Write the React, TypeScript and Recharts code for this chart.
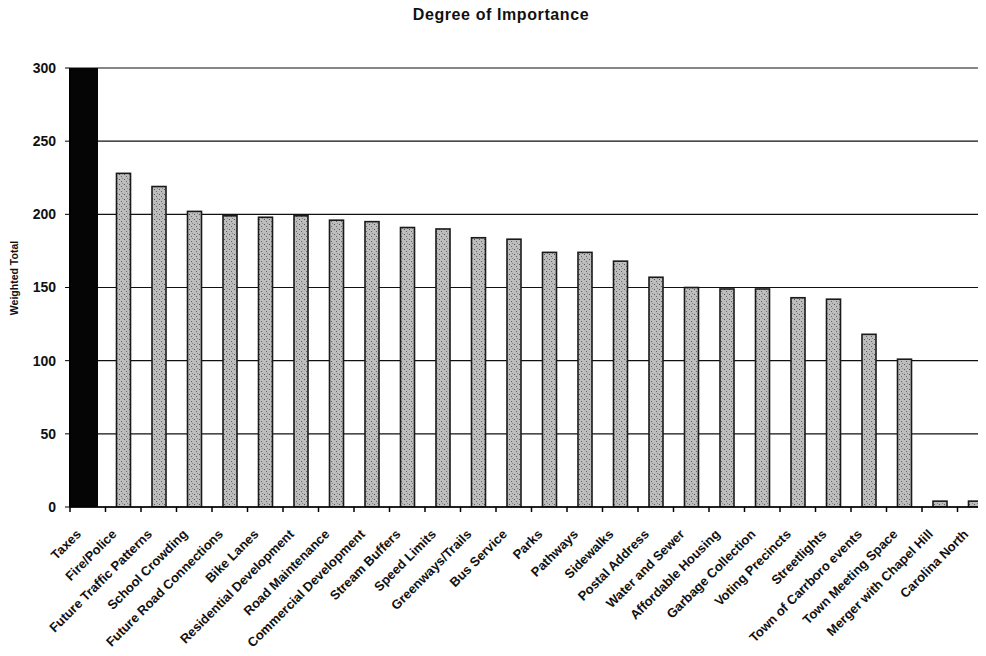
import React from "react";
import { BarChart, Bar, XAxis, YAxis, CartesianGrid } from "recharts";

const categories = [
  "Taxes", "Fire/Police", "Future Traffic Patterns", "School Crowding",
  "Future Road Connections", "Bike Lanes", "Residential Development",
  "Road Maintenance", "Commercial Development", "Stream Buffers",
  "Speed Limits", "Greenways/Trails", "Bus Service", "Parks", "Pathways",
  "Sidewalks", "Postal Address", "Water and Sewer", "Affordable Housing",
  "Garbage Collection", "Voting Precincts", "Streetlights",
  "Town of Carrboro events", "Town Meeting Space", "Merger with Chapel Hill",
  "Carolina North",
];
const weightedTotals = [
  320, 228, 219, 202, 199, 198, 199, 196, 195, 191, 190, 184, 183, 174, 174,
  168, 157, 150, 149, 149, 143, 142, 118, 101, 4, 4,
];
const yTicks = [0, 50, 100, 150, 200, 250, 300];

const data = categories.map((name, i) => ({ name, value: weightedTotals[i] }));

const CHART_W = 1000;
const CHART_H = 648;
const Y_W = 62;
const RIGHT = 15;
const HALF_BAND = (CHART_W - Y_W - RIGHT) / categories.length / 2;
const FONT = "Arial, 'Liberation Sans', sans-serif";

const XTick = (props: any) => {
  const { x, y, payload } = props;
  return (
    <g>
      <line x1={x - HALF_BAND} x2={x - HALF_BAND} y1={y - 8} y2={y - 3} stroke="#000" strokeWidth={1.5} />
      <text
        transform={`translate(${x - 6},${y + 20}) rotate(-45)`}
        textAnchor="end"
        fontFamily={FONT}
        fontSize={13}
        fontWeight="bold"
        fill="#111"
      >
        {payload.value}
      </text>
    </g>
  );
};

const BarShape = (props: any) => {
  const { x, y, width, height, payload } = props;
  if (payload && payload.name === "Taxes") {
    return (
      <g>
        <defs>
          <pattern id="stipple" width="5" height="5" patternUnits="userSpaceOnUse">
            <rect width="5" height="5" fill="#bdbdbd" />
            <rect x="1" y="1" width="1" height="1" fill="#555" />
            <rect x="3" y="3" width="1" height="1" fill="#666" />
            <rect x="4" y="0" width="1" height="1" fill="#888" />
          </pattern>
        </defs>
        <rect x={x - 12} y={y} width={width + 15} height={height} fill="#050505" />
      </g>
    );
  }
  return (
    <rect x={x} y={y} width={width} height={height} fill="url(#stipple)" stroke="#1a1a1a" strokeWidth={1.6} />
  );
};

export default function App() {
  return (
    <div style={{ position: "relative", width: 978, height: 640, background: "#fff" }}>
      <div style={{ position: "absolute", left: 0, top: 0, width: 978, height: 648, overflow: "hidden" }}>
        <BarChart
          width={CHART_W}
          height={CHART_H}
          data={data}
          margin={{ top: 60, right: RIGHT, bottom: 0, left: 0 }}
          barCategoryGap={0}
        >
          <CartesianGrid vertical={false} stroke="#111" strokeWidth={1.2} horizontalValues={yTicks} />
          <XAxis
            dataKey="name"
            interval={0}
            height={149}
            tick={<XTick />}
            tickLine={false}
            axisLine={{ stroke: "#000", strokeWidth: 1.5 }}
          />
          <YAxis
            width={Y_W}
            domain={[0, 300]}
            ticks={yTicks}
            allowDataOverflow
            tickSize={5}
            tickMargin={9}
            tickLine={{ stroke: "#000" }}
            axisLine={{ stroke: "#000", strokeWidth: 1.5 }}
            tick={{ fill: "#111", fontSize: 14, fontWeight: "bold", fontFamily: FONT }}
          />
          <Bar dataKey="value" barSize={14} shape={<BarShape />} isAnimationActive={false} />
        </BarChart>
      </div>
      <div
        style={{
          position: "absolute", left: 0, top: 0, width: 986, textAlign: "center", lineHeight: "14px",
          fontFamily: FONT, fontWeight: "bold", fontSize: 16, letterSpacing: 0.6, color: "#111",
        }}
      >
        Degree of Importance
      </div>
      <div
        style={{
          position: "absolute", left: 6, top: 270, transform: "translate(-50%, -50%) rotate(-90deg)",
          whiteSpace: "nowrap", fontFamily: FONT, fontWeight: "bold", fontSize: 10.5, color: "#111",
        }}
      >
        Weighted Total
      </div>
    </div>
  );
}
